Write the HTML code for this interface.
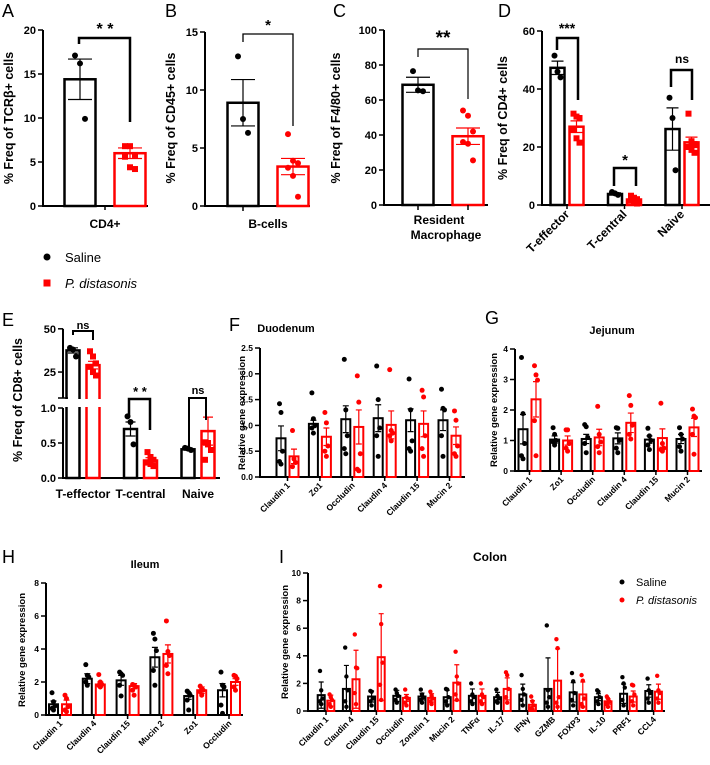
<!DOCTYPE html>
<html><head><meta charset="utf-8"><style>
body{margin:0;background:#fff}
svg{display:block;font-family:"Liberation Sans",Arial,sans-serif}
.pl{font-size:18px}
.tk{font-size:11px;font-weight:bold}
.tks{font-size:8.5px;font-weight:bold}
.al{font-size:12.5px;font-weight:bold}
.als{font-size:9.5px;font-weight:bold}
</style></head><body>
<svg id="fig" width="710" height="765" viewBox="0 0 710 765">
<g id="root"></g>
</svg>
<script>
// ---------- DATA ----------
const catsA=["CD4+"];
const meanA_s=[14.4], errA_s=[2.3], ptsA_s=[[17.1,16.2,9.9]];
const meanA_p=[6.0], errA_p=[0.6], ptsA_p=[[6.8,6.8,5.8,5.6,4.4,4.2]];
const ticksA=[0,5,10,15,20];
const catsB=["B-cells"];
const meanB_s=[8.9], errB_s=[2.0], ptsB_s=[[12.9,7.5,6.3]];
const meanB_p=[3.4], errB_p=[0.7], ptsB_p=[[6.2,3.9,3.7,3.3,2.6,0.8]];
const ticksB=[0,5,10,15];
const catsC=["Resident Macrophage"];
const meanC_s=[68.7], errC_s=[4.3], ptsC_s=[[76.5,65.5,65]];
const meanC_p=[39.3], errC_p=[4.7], ptsC_p=[[54,51,42,36,35,25.5]];
const ticksC=[0,20,40,60,80,100];
const catsD=["T-effector","T-central","Naive"];
const meanD_s=[47.3,3.8,26.2], errD_s=[2.3,0.4,7.3], ptsD_s=[[51.5,46,44],[4.5,4,3.5],[37,30,12]];
const meanD_p=[27,1.9,21.6], errD_p=[2,0.5,1.8], ptsD_p=[[31.5,30.5,30,26,23,21.5],[3.2,2.5,2,1.5,1,0.5],[31.5,22,21,20,19,18]];
const ticksD=[0,20,40,60];
const catsE=["T-effector","T-central","Naive"];
const meanE_s=[37.5,0.70,0.41], errE_s=[1.5,0.10,0.01], ptsE_s=[[39,38,34],[0.88,0.80,0.48],[0.43,0.42,0.40]];
const meanE_p=[29,0.25,0.67], errE_p=[2.2,0.04,0.2], ptsE_p=[[37,34,30,28,25,23],[0.37,0.30,0.26,0.22,0.20,0.17],[0.51,0.48,0.40,0.26,0.5]];
const ticksE=[0,0.5,1.0,25,50];
const catsF=["Claudin 1","Zo1","Occludin","Claudin 4","Claudin 15","Mucin 2"];
const meanF_s=[0.75,1.03,1.12,1.14,1.1,1.1], errF_s=[0.24,0.07,0.26,0.26,0.22,0.2];
const ptsF_s=[[1.42,1.25,0.5,0.3,0.25],[1.63,1.13,1.0,0.95,0.85],[2.28,1.3,0.8,0.55,0.45],[2.15,1.5,0.95,0.8,0.4],[1.9,1.3,0.7,0.55,0.5],[1.7,1.33,1.3,0.8,0.4]];
const meanF_p=[0.4,0.78,0.97,1.01,1.03,0.8], errF_p=[0.14,0.17,0.33,0.27,0.25,0.17];
const ptsF_p=[[0.9,0.35,0.28,0.2],[1.25,1.05,0.6,0.5,0.4],[1.96,1.45,0.45,0.15,0.12],[2.08,0.9,0.85,0.8,0.7],[1.68,1.55,0.8,0.55,0.4],[1.28,1.1,0.6,0.45,0.4]];
const ticksF=[0,0.5,1.0,1.5,2.0,2.5];
const catsG=["Claudin 1","Zo1","Occludin","Claudin 4","Claudin 15","Mucin 2"];
const meanG_s=[1.37,1.03,1.05,1.07,1.03,1.05], errG_s=[0.48,0.12,0.15,0.18,0.12,0.15];
const ptsG_s=[[3.72,1.88,0.9,0.5,0.4],[1.42,1.2,1.0,0.95,0.85],[1.52,1.45,1.1,0.9,0.6],[1.42,1.4,1.0,0.75,0.6],[1.4,1.15,1.0,0.85,0.7],[1.42,1.2,1.05,0.8,0.65]];
const meanG_p=[2.35,1.0,1.1,1.58,1.08,1.43], errG_p=[0.58,0.15,0.27,0.32,0.3,0.3];
const ptsG_p=[[3.45,3.15,2.98,1.65,0.5],[1.35,1.35,0.9,0.75,0.65],[2.12,1.2,0.95,0.8,0.6],[2.47,2.15,1.5,1.2,1.05],[2.22,0.9,0.75,0.7,0.65],[2.03,1.8,1.75,1.2,0.55]];
const ticksG=[0,1,2,3,4];
const catsH=["Claudin 1","Claudin 4","Claudin 15","Mucin 2","Zo1","Occludin"];
const meanH_s=[0.65,2.2,2.1,3.5,1.15,1.5], errH_s=[0.2,0.3,0.3,0.6,0.2,0.4];
const ptsH_s=[[1.35,0.8,0.55,0.4,0.3],[3.05,2.4,2.3,2.0,1.8],[2.6,2.5,2.4,1.8,1.15],[4.95,4.6,3.9,2.7,1.8],[1.45,1.35,1.2,0.9,0.3],[2.6,1.8,1.7,0.6,0.1]];
const meanH_p=[0.65,1.85,1.75,3.7,1.5,2.0], errH_p=[0.25,0.15,0.15,0.55,0.2,0.2];
const ptsH_p=[[1.2,1.0,0.5,0.3,0.2],[2.45,2.0,1.85,1.8,1.7],[1.85,1.8,1.7,1.5,1.2],[5.7,3.85,3.6,3.0,2.5],[1.75,1.6,1.5,1.4,1.2],[2.4,2.35,2.2,1.7,1.5]];
const ticksH=[0,2,4,6,8];
const catsI=["Claudin 1","Claudin 4","Claudin 15","Occludin","Zonulin 1","Mucin 2","TNFα","IL-17","IFNγ","GZMB","FOXP3","IL-10","PRF1","CCL4"];
const meanI_s=[1.15,1.6,1.05,1.1,1.05,1.0,1.1,1.0,1.2,1.6,1.35,1.0,1.25,1.45];
const errI_s=[0.95,1.7,0.4,0.4,0.25,0.5,0.5,0.35,0.75,2.25,0.7,0.25,0.7,0.45];
const ptsI_s=[[2.9,1.5,0.9,0.7,0.5],[4.6,2.5,1.5,0.7,0.3],[1.45,1.4,0.9,0.7,0.4],[1.55,1.3,1.1,0.8,0.6],[1.55,1.2,1.0,0.8,0.6],[1.6,1.55,1.0,0.7,0.4],[2.0,1.2,1.0,0.7,0.5],[1.55,1.1,0.9,0.7,0.6],[2.6,1.6,1.2,0.8,0.4],[6.2,1.5,1.0,0.6,0.3],[2.75,2.15,1.3,0.8,0.4],[1.5,1.4,1.0,0.7,0.5],[2.45,2.0,1.7,0.8,0.4],[2.35,1.5,1.3,0.9,0.6]];
const meanI_p=[0.75,2.3,3.9,0.95,0.95,2.05,1.1,1.6,0.45,2.2,1.2,0.7,1.05,1.4];
const errI_p=[0.4,2.1,3.15,0.25,0.3,1.3,0.5,0.8,0.3,2.3,0.9,0.2,0.4,0.55];
const ptsI_p=[[1.2,1.0,0.8,0.5,0.3],[5.55,3.15,3.1,1.3,0.5],[9.05,6.3,3.5,1.9,0.8],[1.55,1.0,0.9,0.6,0.4],[1.4,1.1,0.9,0.7,0.5],[4.3,2.5,2.0,1.2,0.8],[2.0,1.2,1.0,0.7,0.5],[2.8,2.6,1.6,1.0,0.6],[1.05,0.7,0.4,0.2,0.1],[5.2,4.55,1.0,0.6,0.3],[2.6,2.2,0.9,0.5,0.3],[1.05,0.9,0.7,0.5,0.3],[1.9,1.85,1.2,0.7,0.4],[2.55,1.5,1.3,0.9,0.6]];
const ticksI=[0,2,4,6,8,10];

// ---------- DRAW ----------
const NS="http://www.w3.org/2000/svg";
const root=document.getElementById('root');
function mk(tag,attrs,parent,text){const e=document.createElementNS(NS,tag);for(const k in attrs)e.setAttribute(k,attrs[k]);if(text!==undefined)e.textContent=text;(parent||root).appendChild(e);return e;}
const RED="#ff0000";

function panel(p){
  const g=mk('g',{});
  
  
  const ys=p.ys;
  const ax=mk('g',{},g);
  
  
  if(p.broken){
    mk('line',{x1:p.x0,y1:ys(50),x2:p.x0,y2:p.breakTop,stroke:'#000','stroke-width':2},ax);
    mk('line',{x1:p.x0,y1:p.breakBot,x2:p.x0,y2:p.y0,stroke:'#000','stroke-width':2},ax);
    mk('line',{x1:p.x0-5,y1:p.breakTop,x2:p.x0+5,y2:p.breakTop,stroke:'#000','stroke-width':1.5},ax);
  } else mk('line',{x1:p.x0,y1:ys(p.ticks[p.ticks.length-1]),x2:p.x0,y2:p.y0,stroke:'#000','stroke-width':2},ax);
  mk('line',{x1:p.x0-1,y1:p.y0,x2:p.x1,y2:p.y0,stroke:'#000','stroke-width':2},ax);
  p.ticks.forEach(t=>{
    const y=ys(t);
    mk('line',{x1:p.x0-5,y1:y,x2:p.x0,y2:y,stroke:'#000','stroke-width':1.5},ax);
    const lab=mk('text',{x:p.x0-7,y:y+(p.small?3:4),'text-anchor':'end',class:p.small?'tks':'tk'},ax,p.fmt?p.fmt(t):String(t));
    
    
  });
  const yl=mk('text',{transform:`translate(${p.ylx},${p.yly}) rotate(-90)`,'text-anchor':'middle',class:p.small?'als':'al'},g,p.ylabel);
  
  
  const pl=mk('text',{x:p.plx,y:p.ply,class:'pl'},g,p.letter);
  
  
  if(p.title){const t=mk('text',{x:p.tx,y:p.ty,'text-anchor':'middle',class:'al',style:'font-size:'+(p.tfs||12)+'px'},g,p.title);
    
    }
  const series=[[p.ms,p.es,p.ps,'#000',-1],[p.mp,p.ep,p.pp,RED,1]];
  p.cats.forEach((c,i)=>{
    const cx=p.c0+i*p.step;
    series.forEach(([m,e,pts,col,side],si)=>{
      const bx=cx+side*p.off-p.bw/2;
      const top=ys(m[i]);
      const bar=mk('rect',{x:bx,y:top,width:p.bw,height:p.y0-top,fill:'none',stroke:col,'stroke-width':p.sw||2},g);
      
      
      const bc=bx+p.bw/2;
      const hi=ys(m[i]+e[i]), lo=ys(Math.max(0,m[i]-e[i]));
      const eb=mk('path',{d:`M${bc},${lo}V${hi}M${bc-p.cap},${hi}H${bc+p.cap}M${bc-p.cap},${lo}H${bc+p.cap}`,stroke:col,'stroke-width':1.2,fill:'none'},g);
      
      
      pts[i].forEach((v,k)=>{
        const jx=bc+((k%3)-1)*p.jit;
        const y=ys(v);
        let d;
        if(si&&p.sq) d=mk('rect',{x:jx-p.r,y:y-p.r,width:2*p.r,height:2*p.r,fill:col},g);
        else d=mk('circle',{cx:jx,cy:y,r:p.r,fill:col},g);
        
        
      });
    });
    if(p.xticks) mk('line',{x1:cx,y1:p.y0,x2:cx,y2:p.y0+4,stroke:'#000','stroke-width':1.5},g);
    let xl;
    if(p.rot){
      xl=mk('text',{transform:`translate(${cx+3},${p.y0+(p.small?9:10)}) rotate(-45)`,'text-anchor':'end',class:p.small?'tks':'tk',style:p.small?'':'font-size:12px'},g,c);
    } else if(c==="Resident Macrophage"){
      xl=mk('text',{x:cx,y:p.y0+19,'text-anchor':'middle',class:'tk',style:'font-size:12px'},g);
      mk('tspan',{x:cx-4,dy:0},xl,'Resident');mk('tspan',{x:cx+3,dy:15},xl,'Macrophage');
    } else xl=mk('text',{x:cx,y:p.y0+(p.lyoff||18),'text-anchor':'middle',class:'tk',style:'font-size:12px'},g,c);
    
    
  });
  return g;
}
function lin(y0,ytop,vmax){return v=>y0-(v/vmax)*(y0-ytop);}
function bracket(x1,y1,x2,y2,yb,label,lx,ly,w,fs){
  const g=mk('g',{});
  
  
  mk('path',{d:`M${x1},${y1}V${yb}H${x2}V${y2}`,fill:'none',stroke:'#000','stroke-width':w},g);
  mk('text',{x:lx,y:ly,'text-anchor':'middle',style:`font-size:${fs}px;font-weight:bold`},g,label);
}

// A
panel({name:'panel-a',letter:'A',plx:2,ply:17,x0:43,x1:148,y0:206,ys:lin(206,30,20),ticks:ticksA,cats:catsA,c0:105,step:0,off:25,bw:31,
  ms:meanA_s,es:errA_s,ps:ptsA_s,mp:meanA_p,ep:errA_p,pp:ptsA_p,r:3,jit:5,cap:12,sq:true,sw:2.5,ylabel:'% Freq of TCRβ+ cells',ylx:13,yly:118,xticks:true,lyoff:22});
bracket(79,44,130,122,38,'* *',105,34,2.5,16);
// B
panel({name:'panel-b',letter:'B',plx:165,ply:17,x0:205,x1:310,y0:206,ys:lin(206,32,15),ticks:ticksB,cats:catsB,c0:268,step:0,off:25,bw:31,
  ms:meanB_s,es:errB_s,ps:ptsB_s,mp:meanB_p,ep:errB_p,pp:ptsB_p,r:3,jit:5,cap:12,sw:2.5,ylabel:'% Freq of CD45+ cells',ylx:175,yly:118,xticks:false,lyoff:22});
mk('line',{x1:243,y1:206,x2:243,y2:211,stroke:'#000','stroke-width':1.5});
bracket(243,42,293,126,34,'*',268,30,1.3,15);
// C
panel({name:'panel-c',letter:'C',plx:333,ply:17,x0:384,x1:488,y0:205,ys:lin(205,30,100),ticks:ticksC,cats:catsC,c0:443,step:0,off:25,bw:31,
  ms:meanC_s,es:errC_s,ps:ptsC_s,mp:meanC_p,ep:errC_p,pp:ptsC_p,r:3,jit:5,cap:12,sw:2.5,ylabel:'% Freq of F4/80+ cells',ylx:340,yly:118,xticks:false});
mk('line',{x1:418,y1:205,x2:418,y2:210,stroke:'#000','stroke-width':1.5});
mk('line',{x1:468,y1:205,x2:468,y2:210,stroke:'#000','stroke-width':1.5});
bracket(418,57,468,99,49,'**',443,44,1.2,19);
// D
panel({name:'panel-d',letter:'D',plx:498,ply:17,x0:542,x1:710,y0:205,ys:lin(205,31,60),ticks:ticksD,cats:catsD,c0:567,step:57.5,off:9.5,bw:14,
  ms:meanD_s,es:errD_s,ps:ptsD_s,mp:meanD_p,ep:errD_p,pp:ptsD_p,r:3,jit:3,cap:6,sq:true,sw:2.5,ylabel:'% Freq of CD4+ cells',ylx:507,yly:118,xticks:true,rot:true});
bracket(557,50,578,100,38,'***',567,33,2.5,14);
bracket(614,186,636,186,168,'*',625,165,2.5,15);
bracket(671,87,692,100,70,'ns',682,63,2.5,12);
{const lg=mk('g',{});
 mk('circle',{cx:47,cy:257,r:3.5,fill:'#000'},lg);mk('text',{x:65,y:262,style:'font-size:13px'},lg,'Saline');
 mk('rect',{x:43.5,y:279.5,width:7,height:7,fill:RED},lg);mk('text',{x:65,y:288,style:'font-size:13px;font-style:italic'},lg,'P. distasonis');}
// E broken axis
const ysE=v=> v<=1 ? 478-v*70 : (v>=10 ? 398-(v-10)*1.73 : 408-(v-1)*1.1);
panel({name:'panel-e',letter:'E',plx:2,ply:326,x0:63,x1:220,y0:478,ys:ysE,broken:true,breakTop:398,breakBot:408,ticks:ticksE,fmt:t=>t<10?t.toFixed(1):String(t),
  cats:catsE,c0:83,step:57.5,off:10,bw:13,ms:meanE_s,es:errE_s,ps:ptsE_s,mp:meanE_p,ep:errE_p,pp:ptsE_p,r:3,jit:3,cap:5,sq:true,sw:2.5,
  ylabel:'% Freq of CD8+ cells',ylx:22,yly:400,xticks:false,lyoff:20});
mk('rect',{x:64,y:399,width:160,height:8,fill:'#fff'});
bracket(73,335,93,340,331,'ns',83,329,2,11);
bracket(129,417,150,430,399,'* *',140,396,2.5,13);
bracket(189,450,206,420,398,'ns',198,394,2,11);
// F
panel({name:'panel-f',letter:'F',plx:229,ply:331,x0:260,x1:465,y0:477,ys:lin(477,348,2.5),ticks:ticksF,fmt:t=>t.toFixed(1),cats:catsF,c0:287.5,step:32.4,off:6.5,bw:9,
  ms:meanF_s,es:errF_s,ps:ptsF_s,mp:meanF_p,ep:errF_p,pp:ptsF_p,r:2.5,jit:1.5,cap:3,sw:2,small:true,ylabel:'Relative gene expression',ylx:245,yly:413,
  title:'Duodenum',tx:286,ty:332,tfs:11,xticks:true,rot:true});
// G
panel({name:'panel-g',letter:'G',plx:485,ply:324,x0:515,x1:702,y0:471,ys:lin(471,349,4),ticks:ticksG,cats:catsG,c0:529.5,step:31.6,off:6.5,bw:9,
  ms:meanG_s,es:errG_s,ps:ptsG_s,mp:meanG_p,ep:errG_p,pp:ptsG_p,r:2.5,jit:1.5,cap:3,sw:2,small:true,ylabel:'Relative gene expression',ylx:497,yly:410,
  title:'Jejunum',tx:612,ty:334,tfs:11,xticks:true,rot:true});
// H
panel({name:'panel-h',letter:'H',plx:2,ply:563,x0:46,x1:243,y0:715,ys:lin(715,583,8),ticks:ticksH,cats:catsH,c0:60,step:33.8,off:6.5,bw:9,
  ms:meanH_s,es:errH_s,ps:ptsH_s,mp:meanH_p,ep:errH_p,pp:ptsH_p,r:2.5,jit:1.5,cap:3,sw:2,small:true,ylabel:'Relative gene expression',ylx:25,yly:650,
  title:'Ileum',tx:145,ty:568,tfs:11,xticks:true,rot:true});
// I
panel({name:'panel-i',letter:'I',plx:279,ply:563,x0:308,x1:665,y0:711,ys:lin(711,573,10),ticks:ticksI,cats:catsI,c0:326,step:25.2,off:4.8,bw:7,
  ms:meanI_s,es:errI_s,ps:ptsI_s,mp:meanI_p,ep:errI_p,pp:ptsI_p,r:2.2,jit:1.2,cap:2.5,sw:2,small:true,ylabel:'Relative gene expression',ylx:288,yly:642,
  title:'Colon',tx:490,ty:561,tfs:12,xticks:true,rot:true});
{const lg=mk('g',{});
 mk('circle',{cx:622,cy:582,r:2.5,fill:'#000'},lg);mk('text',{x:636,y:586,style:'font-size:11px'},lg,'Saline');
 mk('circle',{cx:622,cy:600,r:2.5,fill:RED},lg);mk('text',{x:636,y:604,style:'font-size:11px;font-style:italic'},lg,'P. distasonis');}
</script>
</body></html>
